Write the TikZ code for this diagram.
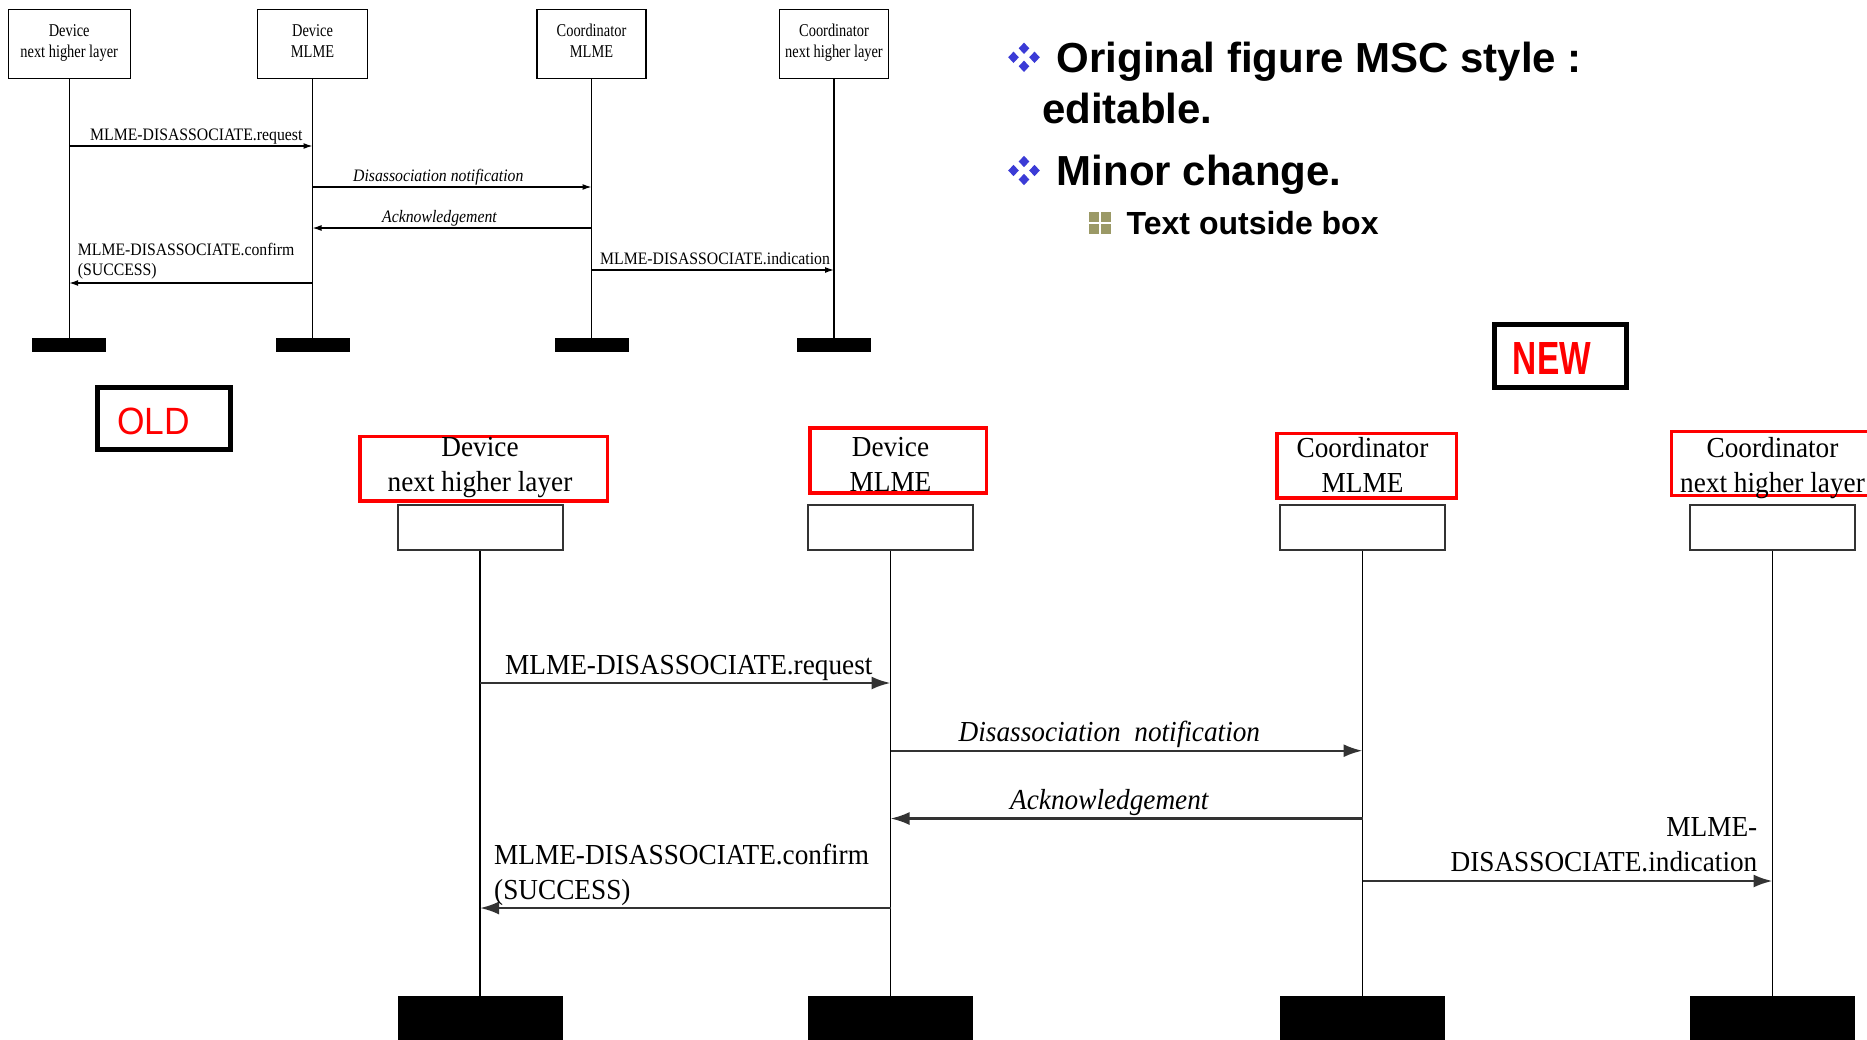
\documentclass[tikz,border=0pt]{standalone}
\usepackage{fontspec}
\usepackage{tikz}
\usetikzlibrary{calc}
\usetikzlibrary{arrows.meta}
\usetikzlibrary{positioning}
\setmainfont{Liberation Serif}
\newfontfamily\mscfont{Liberation Serif}[FakeStretch=0.94]
\newfontfamily\oldmscfont{Liberation Serif}[FakeStretch=0.9]
\newfontfamily\oldboxfont{Liberation Serif}[FakeStretch=0.8]
\newfontfamily\slidefont{Liberation Sans}
\newfontfamily\oldtagfont{Liberation Sans}[FakeStretch=0.93]
\newfontfamily\newtagfont{Liberation Sans}[FakeStretch=0.72]
\definecolor{BulletBlue}{HTML}{3B3BD6}
\definecolor{BulletOlive}{HTML}{9B9966}
\definecolor{TagRed}{HTML}{FF0000}
\definecolor{LineGrey}{HTML}{333333}

\begin{document}
\begin{tikzpicture}[x=1pt, y=-1pt,
  OldBox/.style={draw, line width=1.3pt, minimum height=69pt, inner sep=0pt,
    align=center, font={\oldboxfont\fontsize{18}{21}\selectfont},
    execute at begin node=\rule{0pt}{19.7pt}, execute at end node=\strut},
  OldBar/.style={fill, inner sep=0pt, minimum width=74pt, minimum height=14pt},
  OldLife/.style={line width=1.2pt},
  OldMsg/.style={line width=1.3pt, -{Latex[length=9pt,width=6pt]}},
  OldLabel/.style={inner sep=0pt, align=left,
    font={\oldmscfont\fontsize{17.5}{20}\selectfont}},
  HeadBox/.style={draw=LineGrey, line width=2pt, fill=white, inner sep=0pt,
    minimum width=165pt, minimum height=45pt},
  EndBar/.style={fill, inner sep=0pt, minimum width=165pt, minimum height=48pt},
  Life/.style={line width=1.6pt},
  Msg/.style={line width=2.4pt, black!80, -{Latex[length=19pt,width=13pt]}},
  RedBox/.style={draw=TagRed, line width=3.5pt},
  HeadText/.style={inner sep=0pt, align=center,
    font={\mscfont\fontsize{29}{35}\selectfont},
    execute at begin node=\strut, execute at end node=\strut},
  Label/.style={inner sep=0pt, font={\mscfont\fontsize{29}{35}\selectfont}},
  TagBox/.style={draw, line width=5pt},
  SlideText/.style={inner sep=0pt, anchor=base west,
    font={\slidefont\bfseries\fontsize{42}{50}\selectfont}}]

  \useasboundingbox (0,0) rectangle (1867,1039);

  % old chart
  \foreach \i/\x/\w/\txt in {1/69.2/122/{Device\\next higher layer},
      2/312.5/110/{Device\\MLME},
      3/591.5/109/{Coordinator\\MLME},
      4/834/109/{Coordinator\\next higher layer}}{%
    \node[OldBox, minimum width=\w pt] (ob\i) at (\x,44) {\txt};
    \node[OldBar] (obb\i) at (\x,345) {};
    \draw[OldLife] (ob\i) -- (obb\i);
  }

  \coordinate (om1) at (0,146);
  \coordinate (om2) at (0,187);
  \coordinate (om3) at (0,228);
  \coordinate (om4) at (0,283);
  \coordinate (om5) at (0,270);

  \draw[OldMsg] (ob1 |- om1) -- (ob2 |- om1);
  \draw[OldMsg] (ob2 |- om2) -- (ob3 |- om2);
  \draw[OldMsg] (ob3 |- om3) -- (ob2 |- om3);
  \draw[OldMsg] (ob2 |- om4) -- (ob1 |- om4);
  \draw[OldMsg] (ob3 |- om5) -- (ob4 |- om5);

  \node[OldLabel, anchor=base west] (ol1) at (90,140) {MLME-DISASSOCIATE.request};
  \node[OldLabel, anchor=base west] (ol2) at (353,181) {\itshape Disassociation notification};
  \node[OldLabel, anchor=base west] (ol3) at (382,222.5) {\itshape Acknowledgement};
  \node[OldLabel, anchor=north west, execute at begin node=\strut] (ol4) at (77.7,243)
    {MLME-DISASSOCIATE.confirm\\(SUCCESS)};
  \node[OldLabel, anchor=base west] (ol5) at (600,264) {MLME-DISASSOCIATE.indication};

  % tags
  \draw[TagBox] (97.5,387.5) rectangle (230.5,449.5);
  \node[inner sep=0pt, anchor=base, text=TagRed,
    font={\oldtagfont\fontsize{38}{40}\selectfont}] (oldtag) at (153.5,434.5) {OLD};
  \draw[TagBox] (1494.5,324) rectangle (1626.5,387.5);
  \node[inner sep=0pt, anchor=base, text=TagRed,
    font={\newtagfont\bfseries\fontsize{46.5}{48}\selectfont}] (newtag) at (1552,374) {NEW};

  % bullets
  \foreach \by in {57.3,170.5}{%
    \foreach \dx/\dy in {0/-9,-10.5/0,10.5/0,0/9}{%
      \fill[BulletBlue] (1024+\dx,\by+\dy) +(0,-5.7) -- +(5.3,0) -- +(0,5.7) -- +(-5.3,0) -- cycle;
    }
  }
  \foreach \sx/\sy in {1089/212,1101/212,1089/224,1101/224}{%
    \fill[BulletOlive] (\sx,\sy) rectangle +(10,10);
  }

  \node[SlideText] (s1) at (1056.5,72.5) {Original figure MSC style :};
  \node[SlideText] (s2) at (1042,123) {editable.};
  \node[SlideText] (s3) at (1056.5,185) {Minor change.};
  \node[SlideText, font={\slidefont\bfseries\fontsize{32}{38}\selectfont}] (s4)
    at (1126.5,234) {Text outside box};

  % new chart
  \foreach \i/\x in {1/480,2/890.5,3/1362.5,4/1772.5}{%
    \node[HeadBox] (h\i) at (\x,527.5) {};
    \node[EndBar] (e\i) at (\x,1020) {};
    \draw[Life] (h\i) -- (e\i);
  }

  \draw[RedBox] (360,436.5) rectangle (607.5,501);
  \draw[RedBox] (810,428) rectangle (986.5,493);
  \draw[RedBox] (1277,433.5) rectangle (1456.5,498);
  \draw[RedBox] (1671.5,431.5) rectangle (1880,495.5);

  \node[HeadText] (t1) at (480,470) {Device\\next higher layer};
  \node[HeadText] (t2) at (890.5,470) {Device\\MLME};
  \node[HeadText] (t3) at (1362.5,470) {Coordinator\\MLME};
  \node[HeadText] (t4) at (1772.5,470) {Coordinator\\next higher layer};

  \coordinate (m1) at (0,683);
  \coordinate (m2) at (0,750.7);
  \coordinate (m3) at (0,818.5);
  \coordinate (m4) at (0,908);
  \coordinate (m5) at (0,881);

  \draw[Msg] (h1 |- m1) -- (h2 |- m1);
  \draw[Msg] (h2 |- m2) -- (h3 |- m2);
  \draw[Msg] (h3 |- m3) -- (h2 |- m3);
  \draw[Msg] (h2 |- m4) -- (h1 |- m4);
  \draw[Msg] (h3 |- m5) -- (h4 |- m5);

  \node[Label, anchor=base west] (l1) at (505,674) {MLME-DISASSOCIATE.request};
  \node[Label, anchor=base west] (l2) at (958.5,741) {\itshape Disassociation~~notification};
  \node[Label, anchor=base west] (l3) at (1010,809.5) {\itshape Acknowledgement};
  \node[Label, anchor=north west, align=left, execute at begin node=\strut] (l4)
    at (494,843.5) {MLME-DISASSOCIATE.confirm\\(SUCCESS)};
  \node[Label, anchor=north east, align=right, execute at begin node=\strut] (l5)
    at (1757.5,817.5) {MLME-\\DISASSOCIATE.indication};
\end{tikzpicture}
\end{document}
